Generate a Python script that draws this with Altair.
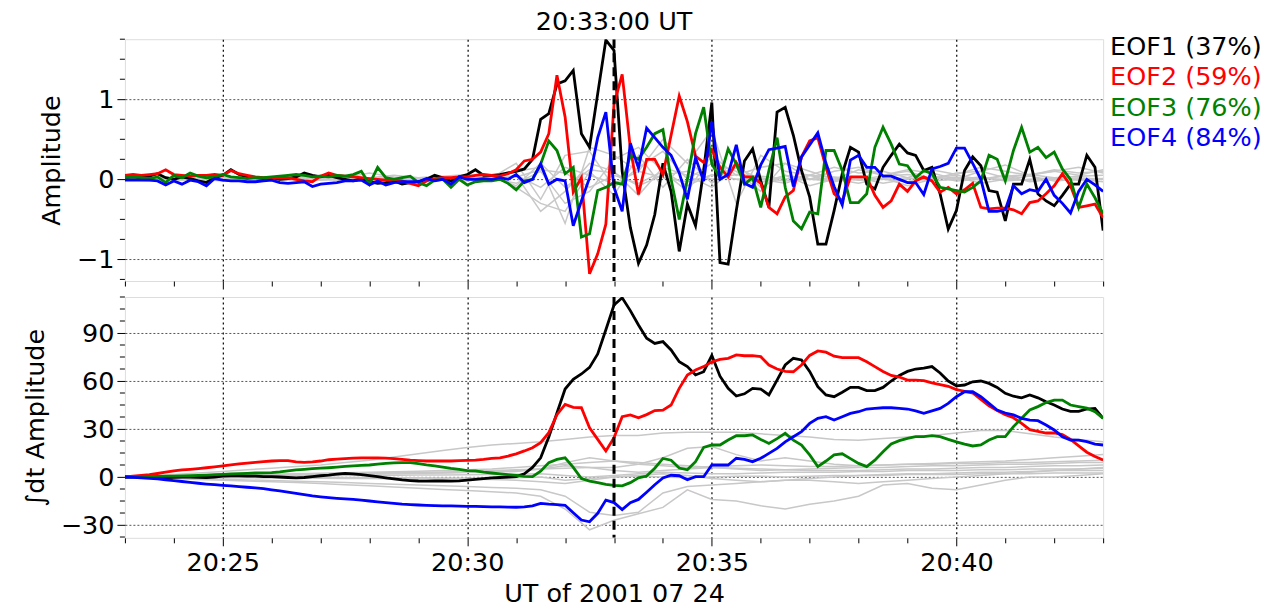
import altair as alt
import pandas as pd

FONT = "DejaVu Sans"
FS = 25.5
W = 979
H_TOP = 242
H_BOT = 241

# ---------------- data ----------------
T_START = 23.0          # minutes after 20:00 UT
STEP_FINE = 10 / 60     # 10 s sampling of the EOF amplitudes
STEP_GRAY = 30 / 60     # 30 s sampling of the background (higher-order) EOFs
EVENT_TIME = [33.0]     # 20:33:00 UT

eof_labels = ["EOF1 (37%)", "EOF2 (59%)", "EOF3 (76%)", "EOF4 (84%)"]
eof_colors = ["#000000", "#ff0000", "#008000", "#0000ff"]

amp_eof1 = [
    0.02, 0.03, 0.02, 0.04, 0.07, 0.02, 0.00, 0.03, 0.01, -0.02,
    -0.04, 0.02, 0.05, 0.12, 0.06, 0.03, 0.02, 0.01, 0.02, 0.00,
    0.01, 0.03, 0.08, 0.05, 0.03, 0.05, 0.02, 0.00, -0.02, 0.01,
    -0.03, -0.05, -0.04, -0.02, -0.06, -0.04, -0.03, 0.00, 0.05, 0.02,
    -0.02, 0.03, 0.06, 0.12, 0.05, 0.05, 0.06, 0.08, 0.10, 0.13,
    0.25, 0.75, 0.82, 1.19, 1.23, 1.36, 0.57, 0.40, 1.07, 1.74,
    1.61, 0.10, -0.60, -1.05, -0.82, -0.44, 0.20, -0.15, -0.90, -0.31,
    -0.58, 0.11, 0.96, -1.04, -1.06, -0.39, 0.23, 0.38, -0.02, -0.35,
    0.84, 0.90, 0.55, 0.11, -0.22, -0.81, -0.81, -0.39, 0.07, 0.40,
    0.34, -0.06, -0.12, 0.15, 0.30, 0.44, 0.33, 0.30, 0.11, 0.15,
    -0.18, -0.62, -0.39, 0.11, 0.28, 0.17, -0.14, -0.16, -0.52, -0.06,
    -0.06, 0.25, -0.18, -0.27, -0.33, -0.20, -0.06, -0.06, 0.30, 0.15,
    -0.64,
]
amp_eof2 = [
    0.05, 0.06, 0.05, 0.06, 0.07, 0.12, 0.06, 0.05, 0.04, 0.05,
    0.05, 0.06, 0.05, 0.11, 0.07, 0.05, 0.03, 0.02, 0.02, 0.02,
    0.02, 0.00, -0.02, -0.03, 0.04, 0.08, 0.05, 0.04, 0.03, 0.02,
    0.01, 0.00, -0.01, -0.01, -0.02, -0.05, -0.08, -0.02, 0.01, 0.02,
    0.02, 0.03, 0.03, 0.05, 0.06, 0.05, 0.04, 0.07, 0.12, 0.23,
    0.25, 0.34, 0.57, 1.30, 0.78, -0.16, 0.02, -1.18, -0.93, -0.56,
    0.94, 1.31, 0.39, -0.19, 0.25, 0.25, 0.06, 0.55, 1.04, 0.72,
    0.29, 0.21, 0.37, 0.15, 0.03, 0.21, 0.03, 0.03, -0.05, -0.35,
    -0.43, -0.22, -0.14, 0.28, 0.48, 0.52, 0.15, -0.18, -0.27, 0.03,
    0.03, 0.03, -0.20, -0.35, -0.27, -0.06, -0.15, -0.02, 0.03, -0.02,
    -0.16, -0.10, -0.18, -0.13, -0.05, -0.35, -0.37, -0.36, -0.36, -0.38,
    -0.43, -0.29, -0.27, -0.18, -0.08, 0.07, -0.08, -0.35, -0.33, -0.31,
    -0.48,
]
amp_eof3 = [
    0.02, 0.03, 0.02, 0.01, 0.03, -0.04, 0.05, 0.02, 0.08, 0.04,
    0.02, 0.03, 0.06, 0.03, 0.02, 0.01, 0.02, 0.02, 0.03, 0.04,
    0.05, 0.06, 0.05, 0.03, 0.04, 0.03, 0.05, 0.04, 0.06, 0.10,
    -0.06, 0.15, 0.02, 0.00, 0.02, 0.04, -0.04, -0.08, -0.01, 0.00,
    -0.10, 0.00, -0.07, -0.03, -0.02, -0.02, 0.00, -0.05, -0.13, -0.02,
    0.00, 0.19, 0.48, 0.36, 0.07, 0.15, -0.72, -0.68, -0.14, -0.10,
    -0.04, -0.06, 0.30, 0.25, 0.40, 0.57, 0.62, 0.00, -0.50, 0.00,
    0.57, 0.90, 0.19, 0.02, 0.38, 0.19, -0.06, 0.02, -0.35, 0.11,
    0.52, -0.10, -0.52, -0.62, -0.41, -0.43, 0.36, 0.36, 0.11, -0.29,
    -0.29, -0.18, 0.40, 0.65, 0.44, 0.19, 0.17, 0.02, 0.11, 0.07,
    -0.10, -0.12, -0.14, -0.16, -0.10, -0.02, 0.30, 0.25, -0.02, 0.36,
    0.65, 0.34, 0.40, 0.27, 0.34, 0.13, 0.00, -0.35, -0.06, -0.23,
    -0.43,
]
amp_eof4 = [
    -0.01, -0.01, -0.01, -0.01, -0.02, -0.07, -0.02, -0.06, -0.01, -0.03,
    -0.08, 0.01, -0.01, -0.02, -0.02, -0.03, -0.03, -0.02, -0.01, -0.04,
    -0.05, -0.04, -0.03, -0.09, -0.06, -0.05, -0.04, -0.02, -0.02, -0.01,
    -0.07, -0.02, -0.07, -0.04, -0.03, -0.03, -0.03, 0.01, -0.02, 0.00,
    -0.06, 0.03, 0.00, 0.00, 0.01, 0.00, 0.02, 0.00, 0.06, -0.04,
    0.00, 0.19, -0.06, 0.00, -0.02, -0.58, -0.27, 0.02, 0.52, 0.84,
    -0.10, -0.40, 0.45, 0.14, 0.64, 0.52, 0.40, 0.30, 0.08, -0.25,
    0.27, -0.02, 0.72, 0.00, 0.06, 0.43, -0.05, -0.10, 0.18, 0.37,
    0.39, 0.41, -0.09, 0.28, 0.43, 0.58, 0.20, -0.09, -0.32, 0.24,
    0.30, 0.15, 0.15, 0.04, 0.04, 0.00, -0.04, -0.04, -0.19, 0.13,
    0.16, 0.20, 0.39, 0.39, 0.20, 0.00, -0.40, -0.40, -0.38, -0.08,
    -0.18, -0.13, -0.15, 0.00, -0.20, -0.30, -0.42, -0.15, 0.00, -0.07,
    -0.15,
]

int_eof1 = [
    0, 0, 0, 0, -0.2, -0.3, -0.2, 0, 0, -0.2,
    -0.3, 0, 0.5, 0.8, 0.8, 0.6, 0.5, 0.3, 0.2, 0,
    -0.3, -0.5, -0.3, 0.3, 0.8, 1.2, 1.8, 2.3, 2.0, 1.5,
    0.8, 0.2, -0.5, -1.2, -1.8, -2.2, -2.5, -2.6, -2.5, -2.5,
    -2.6, -2.4, -2.0, -1.5, -1.0, -0.6, -0.3, 0, 0.3, 2.0,
    6.0, 12.0, 25.0, 40.0, 55.0, 61.0, 64.4, 68.5, 76.9, 92.0,
    107.5, 112.0, 104.0, 95.0, 86.7, 83.5, 84.6, 79.4, 72.0, 69.0,
    63.8, 65.8, 76.0, 63.0, 55.4, 50.6, 52.0, 55.4, 55.0, 51.3,
    60.6, 70.0, 74.2, 73.2, 66.0, 56.5, 51.3, 50.2, 53.0, 56.0,
    56.0, 54.0, 54.0, 56.0, 60.0, 63.5, 66.0, 67.5, 68.0, 69.0,
    65.0, 60.0, 57.0, 57.5, 59.5, 60.0, 58.5, 56.0, 52.3, 50.5,
    49.5, 51.3, 49.5, 47.0, 45.0, 42.5, 41.0, 41.0, 42.5, 42.9,
    36.7,
]
int_eof2 = [
    0, 0.5, 1.0, 1.5, 2.2, 3.0, 3.8, 4.4, 4.8, 5.3,
    5.8, 6.4, 7.0, 7.6, 8.2, 8.7, 9.2, 9.6, 10.0, 10.3,
    10.2, 9.5, 9.2, 9.5, 10.0, 10.8, 11.2, 11.5, 11.8, 12.0,
    12.0, 12.0, 11.8, 11.5, 11.0, 10.5, 10.2, 10.0, 10.0, 10.0,
    10.0, 10.2, 10.4, 10.6, 11.0, 11.6, 12.0, 13.1, 14.5, 16.3,
    18.3, 21.5, 27.7, 39.0, 45.4, 43.5, 43.3, 30.8, 23.5, 16.3,
    24.6, 37.7, 38.8, 37.0, 39.0, 41.5, 41.8, 45.0, 55.4, 63.8,
    66.9, 69.0, 72.0, 73.5, 74.2, 76.3, 75.8, 75.8, 75.2, 70.0,
    67.5, 66.0, 65.8, 70.0, 76.0, 78.8, 78.0, 75.5, 74.6, 74.6,
    74.6, 72.0, 69.0, 66.0, 63.5, 62.5, 60.6, 60.6, 60.2, 58.8,
    57.8, 56.7, 54.6, 53.6, 52.5, 48.5, 44.5, 41.5, 39.0, 37.0,
    33.5, 29.6, 28.5, 27.5, 27.6, 26.5, 23.5, 19.5, 15.5, 12.8,
    10.6,
]
int_eof3 = [
    0, 0.1, 0.2, 0.3, 0.4, 0.5, 0.6, 0.7, 0.8, 1.0,
    1.2, 1.5, 1.7, 1.9, 2.1, 2.3, 2.5, 2.6, 2.8, 3.2,
    3.8, 4.4, 4.8, 5.2, 5.5, 5.8, 6.2, 6.6, 7.0, 7.3,
    7.5, 8.0, 8.5, 8.8, 9.0, 9.0, 8.4, 7.6, 7.0, 6.2,
    5.4, 4.8, 4.0, 3.8, 3.0, 2.5, 2.0, 1.5, 1.0, 0.4,
    0.2, 3.7, 9.0, 11.0, 12.0, 6.0, -1.0, -2.5, -3.5, -4.6,
    -5.2, -5.5, -3.5, -0.5, 0.6, 5.5, 11.6, 10.5, 5.6, 4.5,
    9.6, 18.5, 20.0, 20.0, 23.1, 25.8, 25.8, 26.3, 23.5, 21.0,
    24.0, 27.3, 23.0, 20.0, 13.8, 6.5, 10.0, 13.8, 14.5, 11.5,
    8.5, 6.5, 10.5, 15.8, 20.6, 22.7, 24.2, 25.2, 25.2, 25.8,
    25.2, 23.5, 22.0, 20.6, 19.4, 20.0, 23.1, 25.2, 25.2, 31.5,
    36.7, 41.9, 44.0, 46.5, 48.1, 48.1, 45.0, 44.0, 43.0, 40.8,
    36.7,
]
int_eof4 = [
    0, -0.2, -0.5, -0.8, -1.2, -1.7, -2.2, -2.8, -3.3, -3.9,
    -4.4, -4.8, -5.2, -5.6, -6.0, -6.4, -6.8, -7.3, -8.0, -8.7,
    -9.4, -10.2, -11.0, -11.8, -12.4, -12.9, -13.3, -13.7, -14.0, -14.5,
    -15.0, -15.5, -16.0, -16.5, -17.0, -17.3, -17.5, -17.7, -17.9, -18.0,
    -18.1, -18.2, -18.3, -18.4, -18.5, -18.6, -18.7, -18.8, -18.9, -18.7,
    -18.0, -16.5, -17.0, -17.2, -17.7, -22.3, -26.9, -28.0, -22.7, -14.4,
    -16.0, -20.4, -16.0, -14.0, -9.5, -4.8, -0.6, 1.1, 0.8, -1.7,
    0.2, 0.2, 7.5, 7.5, 7.5, 11.7, 11.0, 9.6, 11.7, 14.8,
    17.9, 22.0, 25.2, 28.3, 33.5, 36.7, 37.7, 35.6, 37.7, 39.8,
    40.8, 42.5, 42.9, 43.3, 43.3, 42.9, 42.5, 41.3, 39.8, 41.3,
    42.9, 46.0, 50.2, 53.3, 53.3, 50.2, 46.0, 41.9, 40.0, 38.8,
    36.7, 35.6, 35.2, 32.5, 29.4, 25.2, 23.1, 23.1, 22.1, 20.6,
    20.0,
]

# higher-order EOFs (grey), 30 s sampling
gray_amp = [
    [0.02, 0.01, 0.03, 0.0, 0.02, 0.04, 0.01, 0.03, 0.05, 0.02, 0.08, 0.03, 0.02, 0.04,
     0.06, 0.03, 0.1, 0.15, -0.55, 0.4, 0.3, 0.1, 0.5, 0.2, 0.62, -0.3, 0.3, 0.1, 0.05,
     0.15, 0.08, 0.1, 0.02, 0.12, 0.06, 0.15, 0.1, 0.05, 0.12, 0.08, 0.1],
    [0.0, -0.02, 0.01, -0.01, 0.0, 0.02, -0.01, 0.0, 0.01, -0.02, 0.0, 0.02, -0.01, 0.0,
     -0.02, 0.05, -0.1, -0.3, -0.4, 0.1, -0.2, 0.3, -0.1, 0.25, -0.05, 0.2, -0.1, 0.05,
     -0.08, 0.0, -0.05, 0.02, -0.08, 0.0, 0.03, -0.05, 0.0, 0.04, -0.02, 0.0, -0.03],
    [0.01, 0.0, 0.0, 0.02, 0.01, 0.0, 0.02, 0.01, 0.0, 0.03, 0.01, 0.0, 0.02, 0.03,
     0.0, 0.02, 0.2, -0.25, 0.3, 0.35, -0.1, 0.15, 0.35, 0.0, 0.2, 0.1, -0.15, 0.2, 0.1,
     0.0, 0.12, 0.05, 0.1, 0.0, 0.08, 0.1, 0.02, 0.06, 0.1, 0.05, 0.12],
    [-0.01, 0.0, 0.01, 0.0, -0.02, 0.0, 0.01, -0.01, 0.0, 0.0, 0.02, -0.01, 0.0, 0.01,
     0.0, -0.02, 0.05, -0.4, -0.15, 0.2, 0.1, -0.2, 0.15, 0.05, -0.1, 0.15, 0.0, -0.05,
     0.05, -0.03, 0.02, -0.05, 0.0, 0.04, -0.02, 0.0, 0.05, -0.03, 0.0, 0.02, 0.0],
    [0.03, 0.02, 0.0, 0.02, 0.03, 0.01, 0.0, 0.02, 0.04, 0.01, 0.02, 0.05, 0.02, 0.0,
     0.03, 0.01, -0.05, 0.1, -0.3, -0.15, 0.25, 0.4, 0.1, -0.15, 0.3, 0.05, 0.15, 0.2,
     0.0, 0.1, 0.15, 0.05, 0.12, 0.08, 0.0, 0.1, 0.18, 0.05, 0.1, 0.15, 0.08],
    [0.0, 0.01, -0.01, 0.0, 0.01, 0.0, -0.01, 0.0, 0.0, 0.01, 0.0, -0.01, 0.01, 0.0,
     0.0, 0.01, 0.03, 0.12, 0.08, -0.1, 0.05, -0.05, 0.1, -0.08, 0.06, 0.0, -0.04, 0.05,
     0.0, -0.02, 0.03, 0.0, -0.03, 0.02, 0.0, 0.03, -0.02, 0.0, 0.02, -0.01, 0.0],
    [0.0, 0.01, 0.0, -0.01, 0.0, 0.01, 0.0, 0.0, -0.01, 0.0, 0.01, 0.0, 0.0, 0.01,
     -0.01, 0.0, 0.05, -0.1, 0.15, 0.05, -0.05, 0.1, 0.02, -0.03, 0.05, 0.0, 0.02, -0.02,
     0.0, 0.02, -0.01, 0.0, 0.02, -0.02, 0.0, 0.01, 0.0, -0.01, 0.02, 0.0, 0.01],
    [0.01, 0.0, 0.01, 0.02, 0.0, 0.01, 0.02, 0.0, 0.01, 0.0, 0.02, 0.01, 0.0, 0.02,
     0.01, 0.03, -0.08, 0.2, -0.1, 0.12, 0.08, -0.08, 0.05, 0.1, 0.0, 0.06, 0.04, 0.0,
     0.05, 0.03, 0.0, 0.04, 0.06, 0.02, 0.05, 0.0, 0.04, 0.06, 0.02, 0.04, 0.05],
]
gray_int = [
    [0, 0.5, 1.5, 2.5, 3.5, 4.5, 5.5, 6.5, 7.5, 9, 10.5, 12.5, 14.5, 16.5, 18.5, 20, 21,
     22, 23.5, 25, 26, 26, 27.5, 28, 28, 28, 27, 26, 25, 23.5, 23, 24, 25, 26, 27.5, 29,
     29, 27, 25, 23.5, 22],
    [0, -0.5, -1, -1.5, -2, -2.5, -3, -3.5, -4, -4.8, -5.5, -6.2, -7, -7.8, -8.5, -9.2,
     -10, -12, -20, -33, -27, -23, -19, -8, -14, -15, -18, -20, -17, -15, -12, -5, -4,
     -7, -8, -5, -2, 0, 0, 1, 2],
    [0, -0.3, -0.6, -1, -1.4, -1.8, -2.2, -2.6, -3, -3.5, -4, -4.5, -5, -5.5, -6, -6.5,
     -7, -8, -12, -22, -24, -22, -10, -6, -5, -4, -3, -2, -2, -3, -4, -3, -2, -1, 0, 1,
     2, 3, 4, 5, 6],
    [0, 0.2, 0.5, 0.8, 1, 1.2, 1.5, 1.8, 2, 2.2, 2.5, 2.8, 3, 3.2, 3.5, 4, 4.5, 5, 5.5,
     6, 6, 8, 12, 18, 19, 14, 10, 12, 10, 8, 7, 7.5, 8, 8.5, 9, 9.5, 10, 11, 12, 13, 14],
    [0, 0.1, 0.3, 0.5, 0.7, 0.9, 1.1, 1.3, 1.5, 1.7, 1.9, 2.1, 2.3, 2.5, 2.8, 3, 3.5, 5,
     7, 6, 4, 3, 4, 5, 6, 5, 4, 4.5, 5, 5.5, 6, 6, 6.5, 7, 7, 7.5, 8, 8, 8.5, 9, 9],
    [0, -0.1, -0.2, -0.3, -0.4, -0.5, -0.6, -0.7, -0.8, -0.9, -1, -1.1, -1.2, -1.3, -1.4,
     -1.5, -2, -3, -4, -2, 0, 1, 2, 1, -1, -2, -3, -2, -1, 0, 1, 1.5, 2, 2, 2.5, 3, 3,
     3.5, 4, 4, 4],
    [0, 0.3, 0.6, 0.9, 1.2, 1.5, 1.8, 2.1, 2.4, 2.7, 3, 3.3, 3.6, 4, 4.5, 5, 6, 7, 8, 9,
     10, 9, 8, 7, 6, 5.5, 5, 4.5, 4, 4, 4, 4.5, 5, 5, 5.5, 6, 6, 6.5, 7, 7, 7.5],
    [0, 0.1, 0.2, 0.3, 0.4, 0.5, 0.6, 0.7, 0.8, 0.9, 1, 1.1, 1.2, 1.3, 1.4, 1.5, 1.7, 2,
     1, 0, 1, 2, 3, 2.5, 2, 2, 2.5, 3, 3, 3, 3.5, 3.5, 4, 4, 4, 4.5, 4.5, 5, 5, 5, 5.5],
    [0, 0, 0, -0.1, -0.1, -0.2, -0.2, -0.3, -0.3, -0.4, -0.4, -0.5, -0.5, -0.6, -0.6,
     -0.7, -0.5, 0, -2, -1, 0, 0.5, 0, -0.5, 0, 0.5, 0.5, 0, 0.5, 1, 1, 1, 1.5, 1.5, 1.5,
     2, 2, 2, 2.5, 2.5, 2.5],
    [0, 0.2, 0.4, 0.6, 0.8, 1, 1.2, 1.4, 1.6, 1.8, 2, 2.2, 2.4, 2.6, 3, 3.5, 4, 5, 9, 12,
     10, 8, 7, 6, 6.5, 7, 7.5, 7, 6.5, 6.5, 7, 7.5, 8, 8, 8.5, 8.5, 9, 9, 9.5, 10, 10.5],
]

amp_series = [amp_eof1, amp_eof2, amp_eof3, amp_eof4]
int_series = [int_eof1, int_eof2, int_eof3, int_eof4]

# axis tick positions
x_ticks = list(range(23, 44))
top_y_major = [-1, 0, 1]
top_y_minor = [-1.25, -0.75, -0.5, -0.25, 0.25, 0.5, 0.75, 1.25, 1.5, 1.75]
bot_y_major = [-30, 0, 30, 60, 90]
bot_y_minor = [-37.5, -22.5, -15, -7.5, 7.5, 15, 22.5, 37.5, 45, 52.5, 67.5, 75,
               82.5, 97.5, 105, 112.5]


def series_frame(values, step):
    return pd.DataFrame({"t": [T_START + k * step for k in range(len(values))], "v": values})


def gray_frame(lines, step):
    rows = []
    for n, vals in enumerate(lines):
        for k, v in enumerate(vals):
            rows.append({"t": T_START + k * step, "v": v, "line": n})
    return pd.DataFrame(rows)


# ---------------- axes ----------------
MAJOR_X = "datum.value % 5 === 0"


def x_axis(bottom):
    kw = dict(
        values=x_ticks,
        tickSize={"condition": {"test": MAJOR_X, "value": 8}, "value": 5},
        tickColor="black", tickWidth=1,
        grid=True,
        gridOpacity={"condition": {"test": MAJOR_X, "value": 1}, "value": 0},
        gridColor="black", gridDash=[2, 3], gridWidth=1.2,
        domain=False,
    )
    if bottom:
        kw.update(
            labels=True,
            labelExpr=MAJOR_X + " ? '20:' + datum.value : ''",
            labelFont=FONT, labelFontSize=FS, labelColor="black", labelPadding=5,
            labelOverlap=False, labelFlush=False,
            title="UT of 2001 07 24", titleFont=FONT, titleFontSize=FS,
            titleFontWeight="normal", titleColor="black", titlePadding=5,
        )
    else:
        kw.update(labels=False, title=None)
    return alt.Axis(**kw)


def y_axis(values, title):
    return alt.Axis(
        values=values, format="d",
        tickSize=8, tickColor="black", tickWidth=1,
        labelFont=FONT, labelFontSize=FS, labelColor="black", labelPadding=3,
        labelOverlap=False, labelFlush=False,
        grid=True, gridColor="#555555", gridDash=[2, 2], gridWidth=1,
        domain=False,
        title=title, titleFont=FONT, titleFontSize=FS, titleFontWeight="normal",
        titleColor="black", titlePadding=12,
    )


x_scale = alt.Scale(domain=[23, 43], nice=False, zero=False)
top_y_scale = alt.Scale(domain=[-1.27, 1.75], nice=False, zero=False)
bot_y_scale = alt.Scale(domain=[-38, 112.5], nice=False, zero=False)


def panel(series, gray_lines, y_scale, yax, y_minor, xax, height, with_legend, title=None):
    layers = []
    layers.append(
        alt.Chart(gray_frame(gray_lines, STEP_GRAY)).mark_line(
            color="#c8c8c8", strokeWidth=1.5, clip=True
        ).encode(
            x=alt.X("t:Q", scale=x_scale, axis=xax),
            y=alt.Y("v:Q", scale=y_scale, axis=yax),
            detail="line:N",
        )
    )
    for vals, col in zip(series, eof_colors):
        layers.append(
            alt.Chart(series_frame(vals, STEP_FINE)).mark_line(
                color=col, strokeWidth=2.8, clip=True
            ).encode(x="t:Q", y="v:Q")
        )
    layers.append(
        alt.Chart(pd.DataFrame({"t": EVENT_TIME})).mark_rule(
            color="black", strokeWidth=3, strokeDash=[9, 5], clip=True
        ).encode(x="t:Q")
    )
    # minor ticks on the y axis
    layers.append(
        alt.Chart(pd.DataFrame({"v": y_minor})).mark_rule(
            color="black", strokeWidth=1
        ).encode(y="v:Q", x=alt.value(-5), x2=alt.value(0))
    )
    if with_legend:
        for k, (lab, col) in enumerate(zip(eof_labels, eof_colors)):
            layers.append(
                alt.Chart(pd.DataFrame({"label": [lab]})).mark_text(
                    align="left", baseline="middle", font=FONT, fontSize=FS, color=col
                ).encode(
                    text="label:N",
                    x=alt.value(W + 7),
                    y=alt.value(8 + 30.3 * k),
                )
            )
    ch = alt.layer(*layers).properties(width=W, height=height)
    if title is not None:
        ch = ch.properties(
            title=alt.Title(title, frame="group", anchor="middle", offset=0,
                            font=FONT, fontSize=FS, fontWeight="normal", color="black")
        )
    return ch


top = panel(amp_series, gray_amp, top_y_scale,
            y_axis(top_y_major, "Amplitude"), top_y_minor, x_axis(False),
            H_TOP, True, title="20:33:00 UT")
bottom = panel(int_series, gray_int, bot_y_scale,
               y_axis(bot_y_major, "\u222bdt Amplitude"), bot_y_minor, x_axis(True),
               H_BOT, False)

chart = alt.vconcat(top, bottom, spacing=6).properties(
    padding={"left": 14, "top": 1, "right": 0, "bottom": 0}
).configure_view(stroke="black", strokeWidth=1.2).configure(background="white")

chart.save("out.html", embed_options={"renderer": "svg", "actions": False})
